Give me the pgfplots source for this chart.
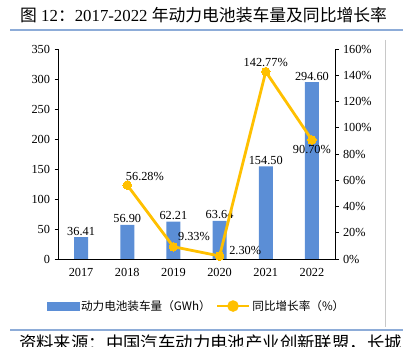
\documentclass[border=0pt]{standalone}
\usepackage{fontspec}
\setmainfont{Liberation Serif}
\newfontfamily\cjk{Noto Sans CJK SC}
\usepackage{pgfplots}
\pgfplotsset{compat=1.18}
\usepackage{pgfplotstable}

\definecolor{barblue}{RGB}{91,142,214}
\definecolor{lineyellow}{RGB}{255,192,0}
\definecolor{ruleblue}{RGB}{141,172,216}
\definecolor{framegray}{RGB}{200,200,200}

\pgfplotstableread{
x y
0 36.41
1 56.90
2 62.21
3 63.64
4 154.50
5 294.60
}\bardata

\pgfplotstableread{
x y
1 56.28
2 9.33
3 2.30
4 142.77
5 90.70
}\growthdata

\newcommand{\numfont}{\fontsize{12.3bp}{14bp}\selectfont}

\begin{document}
\begin{tikzpicture}
\useasboundingbox (0bp,0bp) rectangle (409bp,347bp);
% title
\node[anchor=west, inner sep=0pt, font=\fontsize{16.8bp}{19bp}\selectfont] at (20bp,332bp)
  {{\cjk 图} 12{\cjk ：}2017-2022 {\cjk 年动力电池装车量及同比增长率}};
\draw[ruleblue, line width=1.5bp] (10bp,317bp) -- (403bp,317bp);
\draw[ruleblue, line width=1.5bp] (10bp,17bp) -- (403bp,17bp);
\draw[framegray, line width=0.8bp] (385bp,307bp) -- (385bp,20bp);
\node[anchor=west, inner sep=0pt, font=\cjk\fontsize{17.4bp}{20bp}\selectfont] at (19bp,4bp)
  {资料来源：中国汽车动力电池产业创新联盟，长城};

\begin{axis}[
  at={(58bp,88bp)}, anchor=south west,
  scale only axis, width=277bp, height=210bp,
  xmin=-0.5, xmax=5.5, ymin=0, ymax=350,
  ytick={0,50,...,350},
  xtick={0,...,5},
  xticklabels={2017,2018,2019,2020,2021,2022},
  axis x line*=bottom, axis y line*=left,
  axis line style={black, line width=0.8bp, -},
  x tick style={draw=none},
  y tick style={black, line width=0.8bp},
  tick align=outside, major tick length=3.5bp,
  ticklabel style={font=\numfont},
  /pgf/number format/assume math mode=true,
  yticklabel style={xshift=-1bp},
  xticklabel style={yshift=-2bp},
  ybar, bar width=14bp,
  nodes near coords={\pgfmathprintnumber[fixed,fixed zerofill,precision=2]{\pgfplotspointmeta}},
  nodes near coords style={font=\numfont, black, inner sep=1.5bp},
  clip=false,
]
\addplot[fill=barblue, draw=none] table[x=x,y=y] {\bardata};
\end{axis}

\begin{axis}[
  at={(58bp,88bp)}, anchor=south west,
  scale only axis, width=277bp, height=210bp,
  xmin=-0.5, xmax=5.5, ymin=0, ymax=160,
  ytick={0,20,...,160},
  yticklabel={\pgfmathprintnumber{\tick}\%},
  axis x line=none, axis y line*=right,
  axis line style={black, line width=0.8bp, -},
  y tick style={black, line width=0.8bp},
  tick align=outside, major tick length=3.5bp,
  ticklabel style={font=\numfont},
  /pgf/number format/assume math mode=true,
  yticklabel style={xshift=1bp},
  clip=false,
  legend style={draw=none, fill=none, legend columns=2,
    at={(0.5,-0.224)}, anchor=center,
    font=\cjk\fontsize{11.6bp}{13bp}\selectfont,
    /tikz/every even column/.append style={column sep=3bp},
    inner sep=0pt},
  legend cell align=left,
  lab/.style={draw=none, mark=none, forget plot, point meta=y,
    nodes near coords={\pgfmathprintnumber[fixed,fixed zerofill,precision=2]{\pgfplotspointmeta}\%},
    nodes near coords style={font=\numfont, black, inner sep=1.5bp, #1}},
]
\addlegendimage{legend image code/.code={\fill[barblue] (0bp,-4bp) rectangle (32bp,4bp);}}
\addlegendentry{动力电池装车量（GWh）}
\addplot[lineyellow, line width=2.8bp, mark=*, mark size=4.3bp,
  mark options={fill=lineyellow, draw=lineyellow, line width=0pt},
  legend image code/.code={\draw[lineyellow, line width=2.8bp] (0bp,0bp) -- (32bp,0bp);
     \fill[lineyellow] (16bp,0bp) circle (4.3bp);},
] table[x=x,y=y] {\growthdata};
\addlegendentry{同比增长率（\%）}
\addplot[lab={anchor=west, xshift=-3bp, yshift=9bp}] coordinates {(1,56.28)};
\addplot[lab={anchor=west, xshift=3bp, yshift=10bp}] coordinates {(2,9.33)};
\addplot[lab={anchor=west, xshift=8bp, yshift=5bp}] coordinates {(3,2.30)};
\addplot[lab={anchor=south, yshift=3bp}] coordinates {(4,142.77)};
\addplot[lab={anchor=north, yshift=-4bp}] coordinates {(5,90.70)};
\end{axis}
\end{tikzpicture}
\end{document}
